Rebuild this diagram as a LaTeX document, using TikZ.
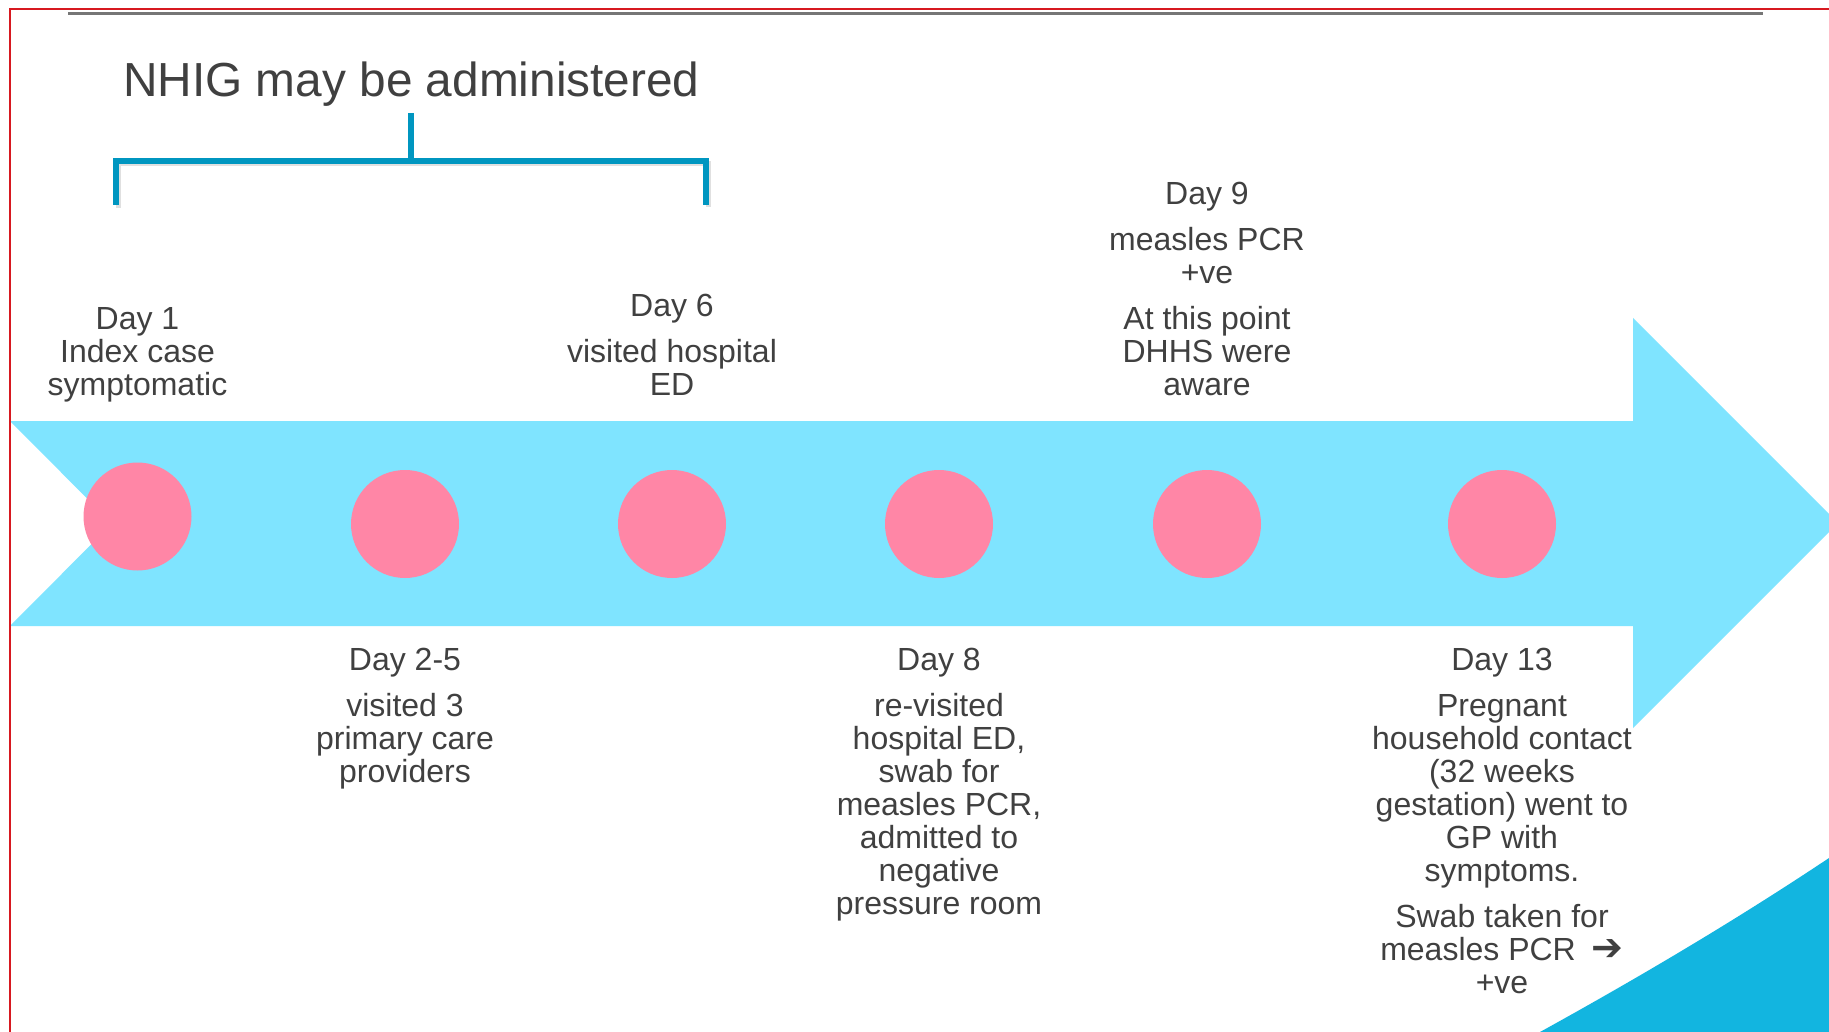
\documentclass[tikz,border=0pt]{standalone}
\usepackage{fontspec}
\setmainfont{Liberation Sans}
\newfontfamily\symfont{DejaVu Sans}

\definecolor{arrowcyan}{RGB}{127,228,255}
\definecolor{dotpink}{RGB}{255,134,166}
\definecolor{bracketblue}{RGB}{0,150,192}
\definecolor{swooshblue}{RGB}{18,181,224}
\definecolor{textgrey}{RGB}{64,64,64}
\definecolor{borderred}{RGB}{215,25,32}
\definecolor{rulegrey}{RGB}{118,118,118}

\tikzset{
  daydot/.style={circle, fill=dotpink, minimum size=108pt, inner sep=0pt},
  daytext/.style={align=center, inner sep=0pt, anchor=north, text=textgrey,
    font=\fontsize{32}{33}\selectfont},
  bracket/.style={bracketblue, line width=5.5pt},
}

\begin{document}
\begin{tikzpicture}[x=1pt, y=-1pt]
            \useasboundingbox (0,0) rectangle (1829,1032);
            \clip (0,0) rectangle (1829,1032);
            \fill[white] (0,0) rectangle (1829,1032);

            % timeline arrow and corner swoosh
            \fill[arrowcyan] (10,421) -- (1633,421) -- (1633,318) -- (1838,523)
                -- (1633,728) -- (1633,626) -- (10,626) -- (112,523.5) -- cycle;
            \fill[swooshblue] (1540,1032) .. controls (1636,979) and (1733,922) .. (1829,858)
                -- (1829,1032) -- cycle;

            % days
            \node[daydot] (c1) at (137.5,516.5) {};
            \node[daydot] (c2) at (405,524) {};
            \node[daydot] (c3) at (672,524) {};
            \node[daydot] (c4) at (939,524) {};
            \node[daydot] (c5) at (1207,524) {};
            \node[daydot] (c6) at (1502,524) {};

            \node[daytext] (t1) at (c1 |- 0,307) {Day 1\\Index case\\symptomatic};
            \node[daytext] (t6) at (c3 |- 0,294) {Day 6\\[13pt]visited hospital\\ED};
            \node[daytext] (t9) at (c5 |- 0,182) {Day 9\\[13pt]measles PCR\\+ve\\[13pt]At this point\\DHHS were\\aware};
            \node[daytext] (t25) at (c2 |- 0,648) {Day 2-5\\[13pt]visited 3\\primary care\\providers};
            \node[daytext] (t8) at (c4 |- 0,648) {Day 8\\[13pt]re-visited\\hospital ED,\\swab for\\measles PCR,\\admitted to\\negative\\pressure room};
            \node[daytext] (t13) at (c6 |- 0,648) {Day 13\\[13pt]Pregnant\\household contact\\(32 weeks\\gestation) went to\\GP with\\symptoms.\\[13pt]Swab taken for\\measles PCR\hspace{16pt}{\symfont\bfseries\fontsize{38}{33}\selectfont ➔}\\+ve};

            % NHIG window
            \node[anchor=base west, inner sep=0pt, text=textgrey, font=\fontsize{47.8}{50}\selectfont]
                (title) at (123,96.7) {NHIG may be administered};
            \draw[black, opacity=0.12, line width=5pt] (118,208) -- (118,164) -- (708,164) -- (708,207);
            \draw[bracket] (116,205) -- (116,161) -- (706,161) -- (706,205);
            \draw[bracket] (411,113) -- (411,161);

            % frame
            \draw[rulegrey, line width=3pt] (68,13.5) -- (1763,13.5);
            \draw[borderred, line width=2pt] (1829,9.5) -- (9.5,9.5) -- (9.5,1032);
\end{tikzpicture}
\end{document}
